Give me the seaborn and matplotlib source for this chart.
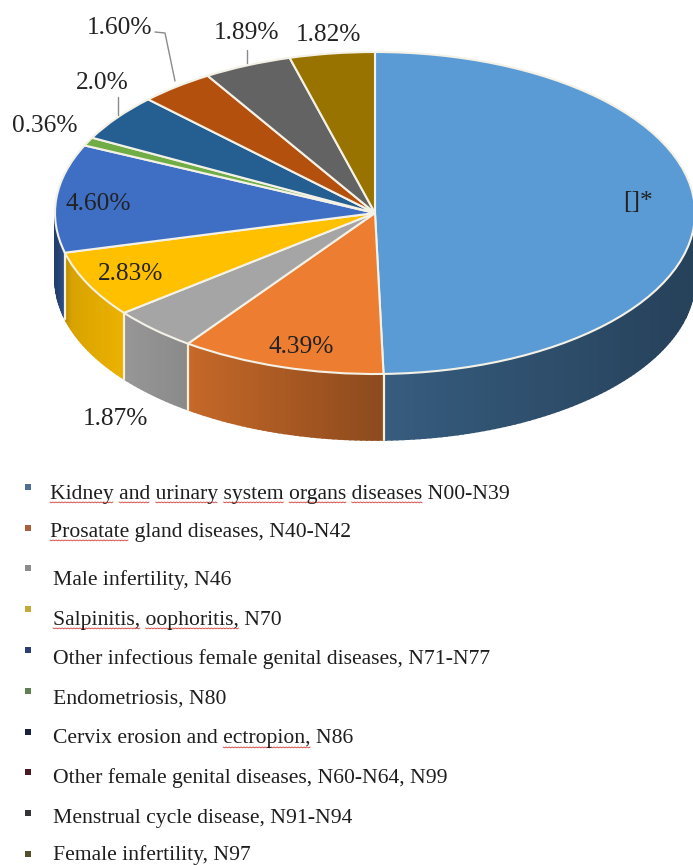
import numpy as np
import matplotlib
matplotlib.use("Agg")
import matplotlib.pyplot as plt
import seaborn as sns

# slice values (first slice has no readable number)
share = [21.0, 4.39, 1.87, 2.83, 4.60, 0.36, 2.0, 1.60, 1.89, 1.82]
slice_labels = ["[]*", "4.39%", "1.87%", "2.83%", "4.60%", "0.36%", "2.0%", "1.60%", "1.89%", "1.82%"]
categories = [
    "Kidney and urinary system organs diseases N00-N39",
    "Prosatate gland diseases, N40-N42",
    "Male infertility, N46",
    "Salpinitis, oophoritis, N70",
    "Other infectious female genital diseases, N71-N77",
    "Endometriosis, N80",
    "Cervix erosion and ectropion, N86",
    "Other female genital diseases, N60-N64, N99",
    "Menstrual cycle disease, N91-N94",
    "Female infertility, N97",
]
top_colors = ["#5B9BD5", "#ED7D31", "#A5A5A5", "#FFC000", "#3F6FC4",
              "#70AD47", "#255E91", "#B4500E", "#636363", "#997300"]
key_colors = ["#4F6F94", "#A8603A", "#8C8C8C", "#C4A93A", "#2A3F7A",
              "#5F8050", "#1A2040", "#4A1A20", "#333338", "#55502A"]

# layout, in pixels of the 693x865 picture
W, H = 693, 865
cx, cy, rx, ry, depth = 375, 213, 320, 161, 66
label_xy = [(638, 202), (301, 347), (115, 419), (131, 274), (98, 204),
            (45, 126), (102, 83), (120, 28), (247, 33), (328, 35)]
key_y = [487, 528, 568, 609, 650, 691, 732, 772, 813, 854]
text_y = [494, 532, 580, 620, 659, 699, 739, 778, 818, 855]
text_x = [50, 50, 53, 53, 53, 53, 53, 53, 53, 53]
leaders = [([155, 165, 175], [32, 33, 81]), ([247, 247], [50, 63]), ([118, 118], [97, 115])]
# (row, text before the underline, underlined text)
squiggles = [(0, "", "Kidney"), (0, "Kidney ", "and"), (0, "Kidney and ", "urinary"),
             (0, "Kidney and urinary ", "system"), (0, "Kidney and urinary system ", "organs"),
             (0, "Kidney and urinary system organs ", "diseases"),
             (1, "", "Prosatate"), (3, "", "Salpinitis,"), (3, "Salpinitis, ", "oophoritis,"),
             (6, "Cervix erosion and ", "ectropion,")]
legend_size = 15.6

sns.set_theme(style="white")
plt.rcParams["font.family"] = ["Liberation Serif", "DejaVu Serif"]

fig = plt.figure(figsize=(W / 100, H / 100), dpi=100)
ax = fig.add_axes([0, 0, 1, 1])
ax_txt = fig.add_axes([0, 0, 1, 1])
ax_txt.patch.set_alpha(0)

# side wall first, then the pie on top
frac = np.cumsum([0] + share) / sum(share)
thetas = 90 - 360 * frac
d = depth / ry


def wall_shade(x):
    return np.interp(x, [-1, -0.95, -0.8, -0.5, 0, 1], [0.55, 0.85, 0.92, 0.8, 0.6, 0.42])


for i, color in enumerate(top_colors):
    base = np.array(matplotlib.colors.to_rgb(color))
    for t0 in np.arange(thetas[i], thetas[i + 1], -1.0):
        t1 = max(t0 - 1.0, thetas[i + 1])
        if np.sin(np.radians((t0 + t1) / 2)) >= 0:
            continue
        a = np.radians([t0, t1])
        xs = np.cos(a)
        ys = np.sin(a)
        ax.fill([xs[0], xs[1], xs[1], xs[0]], [ys[0], ys[1], ys[1] - d, ys[0] - d],
                color=base * wall_shade(xs.mean()), lw=1.2, zorder=1)

for t in thetas[1:5]:
    a = np.radians(t)
    ax.plot([np.cos(a)] * 2, [np.sin(a), np.sin(a) - d], color="#FBEFD8", lw=1.6, zorder=1.5)

ax.pie(share, colors=top_colors, startangle=90, counterclock=False, radius=1,
       wedgeprops={"edgecolor": "#F4F1E6", "linewidth": 1.5, "zorder": 2})
ax.set_aspect("auto")
ax.set_xlim((0 - cx) / rx, (W - cx) / rx)
ax.set_ylim((cy - H) / ry, cy / ry)

# text layer in picture pixels
for lab, (x, y) in zip(slice_labels, label_xy):
    ax_txt.text(x, y, lab, ha="center", va="center", fontsize=18.3, color="#222222")
for xs, ys in leaders:
    ax_txt.plot(xs, ys, color="#8A8A8A", lw=1)

sns.scatterplot(x=[28] * len(key_y), y=key_y, hue=categories, palette=key_colors,
                marker="s", s=20, linewidth=0, legend=False, ax=ax_txt)
ax_txt.set_xlim(0, W)
ax_txt.set_ylim(H, 0)
ax_txt.axis("off")

for x, y, lab in zip(text_x, text_y, categories):
    ax_txt.text(x, y, lab, ha="left", va="center", fontsize=legend_size, color="#1E1E1E")

# red spell-check squiggles under some words
renderer = fig.canvas.get_renderer()


def text_width(s):
    if not s:
        return 0
    t = ax_txt.text(0, 0, s.replace(" ", "\u00a0"), fontsize=legend_size)
    w = t.get_window_extent(renderer).width
    t.remove()
    return w


for row, before, word in squiggles:
    x0 = text_x[row] + text_width(before)
    x1 = x0 + text_width(word)
    zx = np.arange(x0, x1, 1.5)
    zy = text_y[row] + 8 + 0.8 * (np.arange(len(zx)) % 2)
    ax_txt.plot(zx, zy, color="#D9534F", lw=0.7)

fig.savefig("out.png", dpi=100, facecolor="white")
